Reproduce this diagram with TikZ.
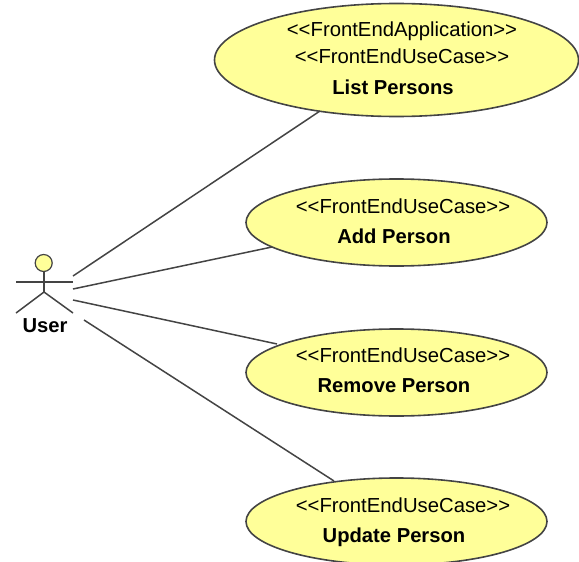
\documentclass[tikz,border=0pt]{standalone}
\usepackage{fontspec}
\setmainfont{Liberation Sans}
\usetikzlibrary{shapes.geometric}
\definecolor{ucfill}{HTML}{FFFF99}
\definecolor{ucline}{HTML}{444444}
\tikzset{
  usecase/.style={draw=ucline,fill=ucfill,line width=1.6pt,ellipse,inner sep=0pt},
  assoc/.style={draw=ucline,line width=1.5pt},
  stereo/.style={font=\fontsize{20.3}{24}\selectfont,text=black},
  ucname/.style={font=\fontsize{20.2}{24}\selectfont\bfseries,text=black}
}
\begin{document}
\begin{tikzpicture}[x=1pt,y=-1pt]
\useasboundingbox (0,0) rectangle (579,562);
\begin{scope}
\clip (0,0) rectangle (579,562);
\node[usecase,minimum width=364pt,minimum height=113pt] (list) at (396.5,60) {};
\node[usecase,minimum width=301pt,minimum height=87pt] (add) at (396.5,222.5) {};
\node[usecase,minimum width=301pt,minimum height=87pt] (remove) at (396.5,372.5) {};
\node[usecase,minimum width=301pt,minimum height=87pt] (update) at (396.5,521.5) {};
\end{scope}

\node[stereo] (t1) at (402,31) {<{}<FrontEndApplication>{}>};
\node[stereo] (t2) at (402,55.8) {<{}<FrontEndUseCase>{}>};
\node[ucname] (n1) at (393,87) {List Persons};
\node[stereo] (t3) at (403,205.8) {<{}<FrontEndUseCase>{}>};
\node[ucname] (n2) at (394,236.5) {Add Person};
\node[stereo] (t4) at (403,354.8) {<{}<FrontEndUseCase>{}>};
\node[ucname] (n3) at (394,386) {Remove Person};
\node[stereo] (t5) at (403,504.8) {<{}<FrontEndUseCase>{}>};
\node[ucname] (n4) at (394,537.5) {Update Person};

% actor
\coordinate (neck) at (44,272);
\coordinate (hip) at (44,292);
\coordinate (armL) at (16,282);
\coordinate (armR) at (73,282);
\coordinate (footL) at (16,313);
\coordinate (footR) at (73,313);
\draw[assoc] (neck) -- (hip);
\draw[assoc] (armL) -- (armR);
\draw[assoc] (footL) -- (hip) -- (footR);
\node[circle,draw=ucline,fill=ucfill,line width=1.2pt,minimum size=17pt,inner sep=0pt] (head) at (43.7,263) {};
\node[ucname] (user) at (45,325.5) {User};

% associations
\coordinate (u1) at (73,276);
\coordinate (u2) at (73,289);
\coordinate (u3) at (73,300);
\coordinate (u4) at (84,320);
\coordinate (e1) at (320,111);
\coordinate (e2) at (272,247);
\coordinate (e3) at (277,344);
\coordinate (e4) at (334,481);
\draw[assoc] (u1) -- (e1);
\draw[assoc] (u2) -- (e2);
\draw[assoc] (u3) -- (e3);
\draw[assoc] (u4) -- (e4);
\end{tikzpicture}
\end{document}
